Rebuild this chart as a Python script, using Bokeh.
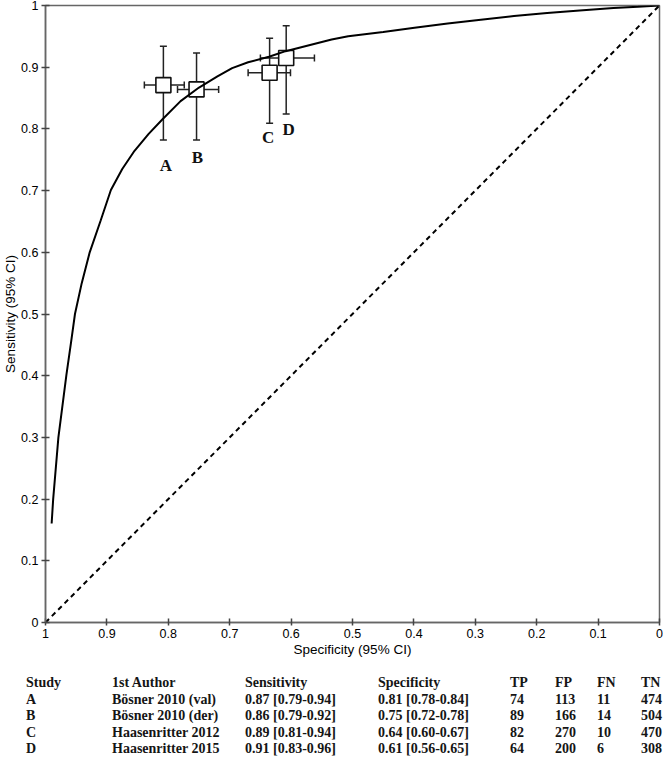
from bokeh.plotting import figure
from bokeh.models import (Range1d, FixedTicker, PrintfTickFormatter, ColumnDataSource,
                          Whisker, TeeHead, Div)
from bokeh.layouts import column
from bokeh.core.properties import value
from bokeh.embed import file_html
from bokeh.resources import INLINE

# ---------------- data ----------------
studies = ["A", "B", "C", "D"]
authors = ["Bösner 2010 (val)", "Bösner 2010 (der)", "Haasenritter 2012", "Haasenritter 2015"]

# plotted estimates
sens = [0.871, 0.864, 0.891, 0.915]
sens_lo = [0.782, 0.782, 0.809, 0.824]
sens_hi = [0.934, 0.923, 0.947, 0.967]
spec = [0.808, 0.754, 0.635, 0.608]
spec_lo = [0.774, 0.718, 0.601, 0.562]
spec_hi = [0.839, 0.785, 0.670, 0.650]

# printed table
sens_text = ["0.87 [0.79-0.94]", "0.86 [0.79-0.92]", "0.89 [0.81-0.94]", "0.91 [0.83-0.96]"]
spec_text = ["0.81 [0.78-0.84]", "0.75 [0.72-0.78]", "0.64 [0.60-0.67]", "0.61 [0.56-0.65]"]
tp = [74, 89, 82, 64]
fp = [113, 166, 270, 200]
fn = [11, 14, 10, 6]
tn = [474, 504, 470, 308]
header = ["Study", "1st Author", "Sensitivity", "Specificity", "TP", "FP", "FN", "TN"]

# SROC curve
sroc_spec = [0.990, 0.9875, 0.979, 0.966, 0.958, 0.952, 0.941, 0.928, 0.910, 0.8935, 0.875,
             0.855, 0.832, 0.809, 0.780, 0.750, 0.720, 0.696, 0.670, 0.636, 0.609, 0.534,
             0.507, 0.450, 0.399, 0.345, 0.291, 0.237, 0.183, 0.130, 0.075, 0.035, 0.0]
sroc_sens = [0.1605, 0.200, 0.300, 0.401, 0.457, 0.500, 0.550, 0.600, 0.652, 0.701, 0.735,
             0.7645, 0.792, 0.816, 0.845, 0.867, 0.885, 0.8985, 0.908, 0.917, 0.926, 0.945,
             0.950, 0.957, 0.964, 0.971, 0.977, 0.983, 0.988, 0.992, 0.996, 0.998, 1.0]

# chance line
chance_spec = [1.0, 0.0]
chance_sens = [0.0, 1.0]

tick_values = [0.0, 0.1, 0.2, 0.3, 0.4, 0.5, 0.6, 0.7, 0.8, 0.9, 1.0]

# ---------------- styles / layout ----------------
label_dx = [2.5, 1, -1.5, 2.5]
label_dy = [25, 17.5, 14, 15]

W = 663
FL, FT = 42, 5           # frame offsets inside the figure
FW, FH = 617, 617        # frame size
FB = 37                  # bottom border
HF = FT + FH + FB        # figure height (659)

# table cell positions inside the table block (px)
col_px = [26, 112, 245, 378, 510, 555, 597, 641]
row_base = [29, 45.4, 61.8, 78.2, 94.6]
TBL_H = 97
ASC = 11.7               # baseline offset from span top (14px Liberation Serif, line-height 14px)

p = figure(width=W, height=HF, x_range=Range1d(1, 0), y_range=Range1d(0, 1),
           output_backend="svg", toolbar_location=None,
           min_border_left=FL, min_border_right=W - FL - FW,
           min_border_top=FT, min_border_bottom=FB,
           background_fill_color="white", border_fill_color="white")
p.grid.visible = False
p.outline_line_color = "#666666"
p.outline_line_width = 1.5

for ax in (p.xaxis[0], p.yaxis[0]):
    ax.ticker = FixedTicker(ticks=tick_values)
    ax.formatter = PrintfTickFormatter(format="%g")
    ax.axis_line_color = "#666666"
    ax.axis_line_width = 1.5
    ax.major_tick_line_color = "#444444"
    ax.major_tick_line_width = 1.5
    ax.minor_tick_line_color = None
    ax.major_label_text_font = "Liberation Sans"
    ax.major_label_text_font_size = "12.5px"
    ax.major_label_text_color = "#000000"
    ax.axis_label_text_font = "Liberation Sans"
    ax.axis_label_text_font_style = "normal"
    ax.axis_label_text_font_size = "13.5px"
    ax.axis_label_text_color = "#000000"
    ax.axis_label_standoff = 1

p.xaxis.axis_label = "Specificity (95% CI)"
p.yaxis.axis_label = "Sensitivity (95% CI)"
p.xaxis.major_tick_in = 4
p.xaxis.major_tick_out = 3
p.xaxis.major_label_standoff = 3
p.yaxis.major_tick_in = 4
p.yaxis.major_tick_out = 4
p.yaxis.major_label_standoff = 3
p.yaxis.axis_label_standoff = 0

src = ColumnDataSource(dict(study=studies, sens=sens, sens_lo=sens_lo, sens_hi=sens_hi,
                            spec=spec, spec_lo=spec_lo, spec_hi=spec_hi,
                            dx=label_dx, dy=label_dy))

# chance diagonal
p.line(chance_spec, chance_sens, line_color="black", line_width=2, line_dash="5 4")

def head():
    return TeeHead(size=7, line_color="#222222", line_width=1.5)

vw = Whisker(source=src, base="spec", lower="sens_lo", upper="sens_hi", dimension="height",
             line_color="#222222", line_width=1.5, lower_head=head(), upper_head=head(),
             level="underlay")
hw = Whisker(source=src, base="sens", lower="spec_lo", upper="spec_hi", dimension="width",
             line_color="#222222", line_width=1.5, lower_head=head(), upper_head=head(),
             level="underlay")
p.add_layout(vw)
p.add_layout(hw)

p.scatter("spec", "sens", source=src, marker="square", size=15,
          fill_color="white", line_color="#111111", line_width=1.6)

# SROC curve
p.line(sroc_spec, sroc_sens, line_color="black", line_width=2)

p.text(x="spec", y="sens_lo", text="study", source=src, x_offset="dx", y_offset="dy",
       text_font=value("Liberation Serif"), text_font_style="bold", text_font_size="17px",
       text_color="#111111", text_align="center", text_baseline="middle")

# ---------------- table ----------------
columns = [studies, authors, sens_text, spec_text,
           [str(v) for v in tp], [str(v) for v in fp], [str(v) for v in fn], [str(v) for v in tn]]
spans = []
for cx, head_txt, vals in zip(col_px, header, columns):
    for rb, txt in zip(row_base, [head_txt] + list(vals)):
        spans.append(f'<span style="position:absolute;left:{cx}px;top:{rb - ASC:.1f}px">{txt}</span>')
html = ('<div style="position:relative;width:%dpx;height:%dpx;'
        "font-family:'Liberation Serif',serif;font-weight:bold;font-size:14px;"
        'line-height:14px;color:#151515;white-space:nowrap;margin:0;padding:0">' % (W, TBL_H)
        + "".join(spans) + "</div>")
tbl = Div(text=html, width=W, height=TBL_H, margin=0)

root = column(p, tbl, spacing=0)

open("out.html", "w").write(file_html(root, INLINE))
